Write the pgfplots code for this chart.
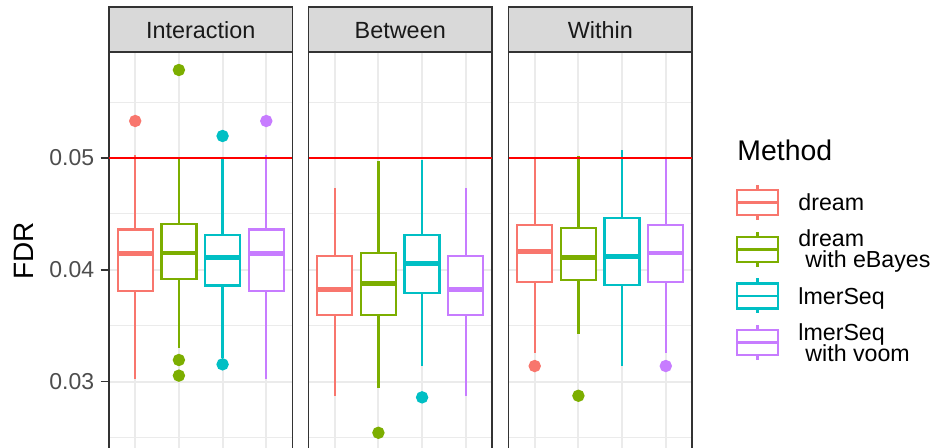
\documentclass[border=0pt]{standalone}
\usepackage{pgfplots}
\pgfplotsset{compat=1.18}
\usepgfplotslibrary{statistics}
\usepackage{fontspec}
\setmainfont{Liberation Sans}
\definecolor{cR}{HTML}{F8766D}
\definecolor{cG}{HTML}{7CAE00}
\definecolor{cC}{HTML}{00BFC4}
\definecolor{cP}{HTML}{C77CFF}
\definecolor{grey92}{HTML}{EBEBEB}
\definecolor{grey85}{HTML}{D9D9D9}
\definecolor{grey20}{HTML}{333333}
\definecolor{grey30}{HTML}{4D4D4D}
\definecolor{grey10}{HTML}{1A1A1A}
% FDR values are given in percent (FDR x 100); tick labels show the FDR itself
\newcommand{\bp}[7]{\addplot[color=#2, line width=1.15pt, solid,
  boxplot/draw direction=y,
  boxplot prepared={draw position=#1, lower whisker=#3, lower quartile=#4,
    median=#5, upper quartile=#6, upper whisker=#7, box extend=0.8, whisker extend=0},
  boxplot/every box/.style={draw=#2, fill=white},
  boxplot/every median/.style={line width=2.3pt},
  mark=*, mark size=2.5pt, mark options={fill=#2, draw=none}]}
\pgfplotsset{
  panel/.style={
    scale only axis, width=91.75pt, height=198pt,
    anchor=south west,
    xmin=0.4, xmax=4.6, ymin=2.407, ymax=5.948,
    axis x line*=top, axis y line*=box,
    axis line style={grey20, line width=0.7pt},
    xtick={1,2,3,4}, xticklabels={}, xtick style={draw=none},
    ytick={3,4,5}, minor ytick={2.5,3.5,4.5,5.5},
    xmajorgrids, ymajorgrids, yminorgrids,
    major grid style={grey92, line width=1pt},
    minor grid style={grey92, line width=0.5pt},
    minor tick length=0pt,
    ytick pos=left,
    tick align=outside,
    major tick length=4.2pt,
    ytick style={grey20, line width=0.7pt},
    yticklabel style={font=\fontsize{11.5}{13}\selectfont, color=grey30, inner sep=0pt, xshift=-3pt},
  },
}
\begin{document}
\begin{tikzpicture}
\useasboundingbox (0,0) rectangle (467.5pt,224pt);
% Panel 1: Interaction
\begin{axis}[panel, at={(54.5pt,0pt)}, yticklabels={0.03,0.04,0.05}]
\bp{1}{cR}{3.02}{3.81}{4.148}{4.362}{5.027} table[row sep=\\, y index=0] {data\\ 5.331\\};
\bp{2}{cG}{3.299}{3.92}{4.15}{4.41}{5.00} table[row sep=\\, y index=0] {data\\ 5.787\\ 3.194\\ 3.054\\};
\bp{3}{cC}{3.21}{3.86}{4.11}{4.31}{4.99} table[row sep=\\, y index=0] {data\\ 5.197\\ 3.155\\};
\bp{4}{cP}{3.02}{3.81}{4.148}{4.362}{5.027} table[row sep=\\, y index=0] {data\\ 5.331\\};
\addplot[color=red, line width=1.3pt] coordinates {(0.4,5) (4.6,5)};
\end{axis}
% Panel 2: Between
\begin{axis}[panel, at={(154.25pt,0pt)}, yticklabels={}, ytick style={draw=none}]
\bp{1}{cR}{2.874}{3.596}{3.826}{4.123}{4.734} coordinates {};
\bp{2}{cG}{2.94}{3.596}{3.879}{4.153}{4.97} table[row sep=\\, y index=0] {data\\ 2.543\\};
\bp{3}{cC}{3.14}{3.79}{4.058}{4.31}{4.98} table[row sep=\\, y index=0] {data\\ 2.86\\};
\bp{4}{cP}{2.874}{3.596}{3.826}{4.123}{4.734} coordinates {};
\addplot[color=red, line width=1.3pt] coordinates {(0.4,5) (4.6,5)};
\end{axis}
% Panel 3: Within
\begin{axis}[panel, at={(254.25pt,0pt)}, yticklabels={}, ytick style={draw=none}]
\bp{1}{cR}{3.253}{3.894}{4.162}{4.398}{5.00} table[row sep=\\, y index=0] {data\\ 3.14\\};
\bp{2}{cG}{3.426}{3.909}{4.108}{4.374}{5.02} table[row sep=\\, y index=0] {data\\ 2.874\\};
\bp{3}{cC}{3.14}{3.864}{4.121}{4.461}{5.072} coordinates {};
\bp{4}{cP}{3.253}{3.894}{4.15}{4.398}{5.00} table[row sep=\\, y index=0] {data\\ 3.14\\};
\addplot[color=red, line width=1.3pt] coordinates {(0.4,5) (4.6,5)};
\end{axis}
% strips
\foreach \xl/\lab in {54.5/Interaction, 154.25/Between, 254.25/Within}{
  \draw[grey20, line width=0.7pt, fill=grey85] (\xl pt,198pt) rectangle ({\xl pt+91.75pt},220.5pt);
  \node[anchor=base, inner sep=0pt, font=\fontsize{11.7}{14}\selectfont, text=grey10] at ({\xl pt+45.875pt},204.85pt) {\lab};
}
% y label
\node[rotate=90, font=\fontsize{14}{17}\selectfont, inner sep=0pt] at (12pt,98.5pt) {FDR};
% legend
\node[anchor=west, inner sep=0pt, font=\fontsize{14.2}{17}\selectfont] at (368.5pt,148.75pt) {Method};
\foreach \c/\yc in {cR/122.75, cG/99.25, cC/76, cP/52.75}{
  \draw[\c, line width=1.1pt] (378.75pt,\yc pt+6.25pt) -- (378.75pt,\yc pt+8.75pt);
  \draw[\c, line width=1.1pt] (378.75pt,\yc pt-6.25pt) -- (378.75pt,\yc pt-8.75pt);
  \draw[\c, line width=1.1pt] (368.5pt,\yc pt-6.25pt) rectangle (389pt,\yc pt+6.25pt);
  \draw[\c, line width=1.1pt] (368.5pt,\yc pt) -- (389pt,\yc pt);
}
\begin{scope}[every node/.style={anchor=base west, inner sep=0pt, font=\fontsize{11.6}{13}\selectfont}]
\node at (399pt,118.6pt) {dream};
\node at (399pt,100.65pt) {dream};
\node at (402.5pt,90pt) {with eBayes};
\node at (399pt,71.7pt) {lmerSeq};
\node at (399pt,53.9pt) {lmerSeq};
\node at (402.5pt,43.25pt) {with voom};
\end{scope}
\end{tikzpicture}
\end{document}
